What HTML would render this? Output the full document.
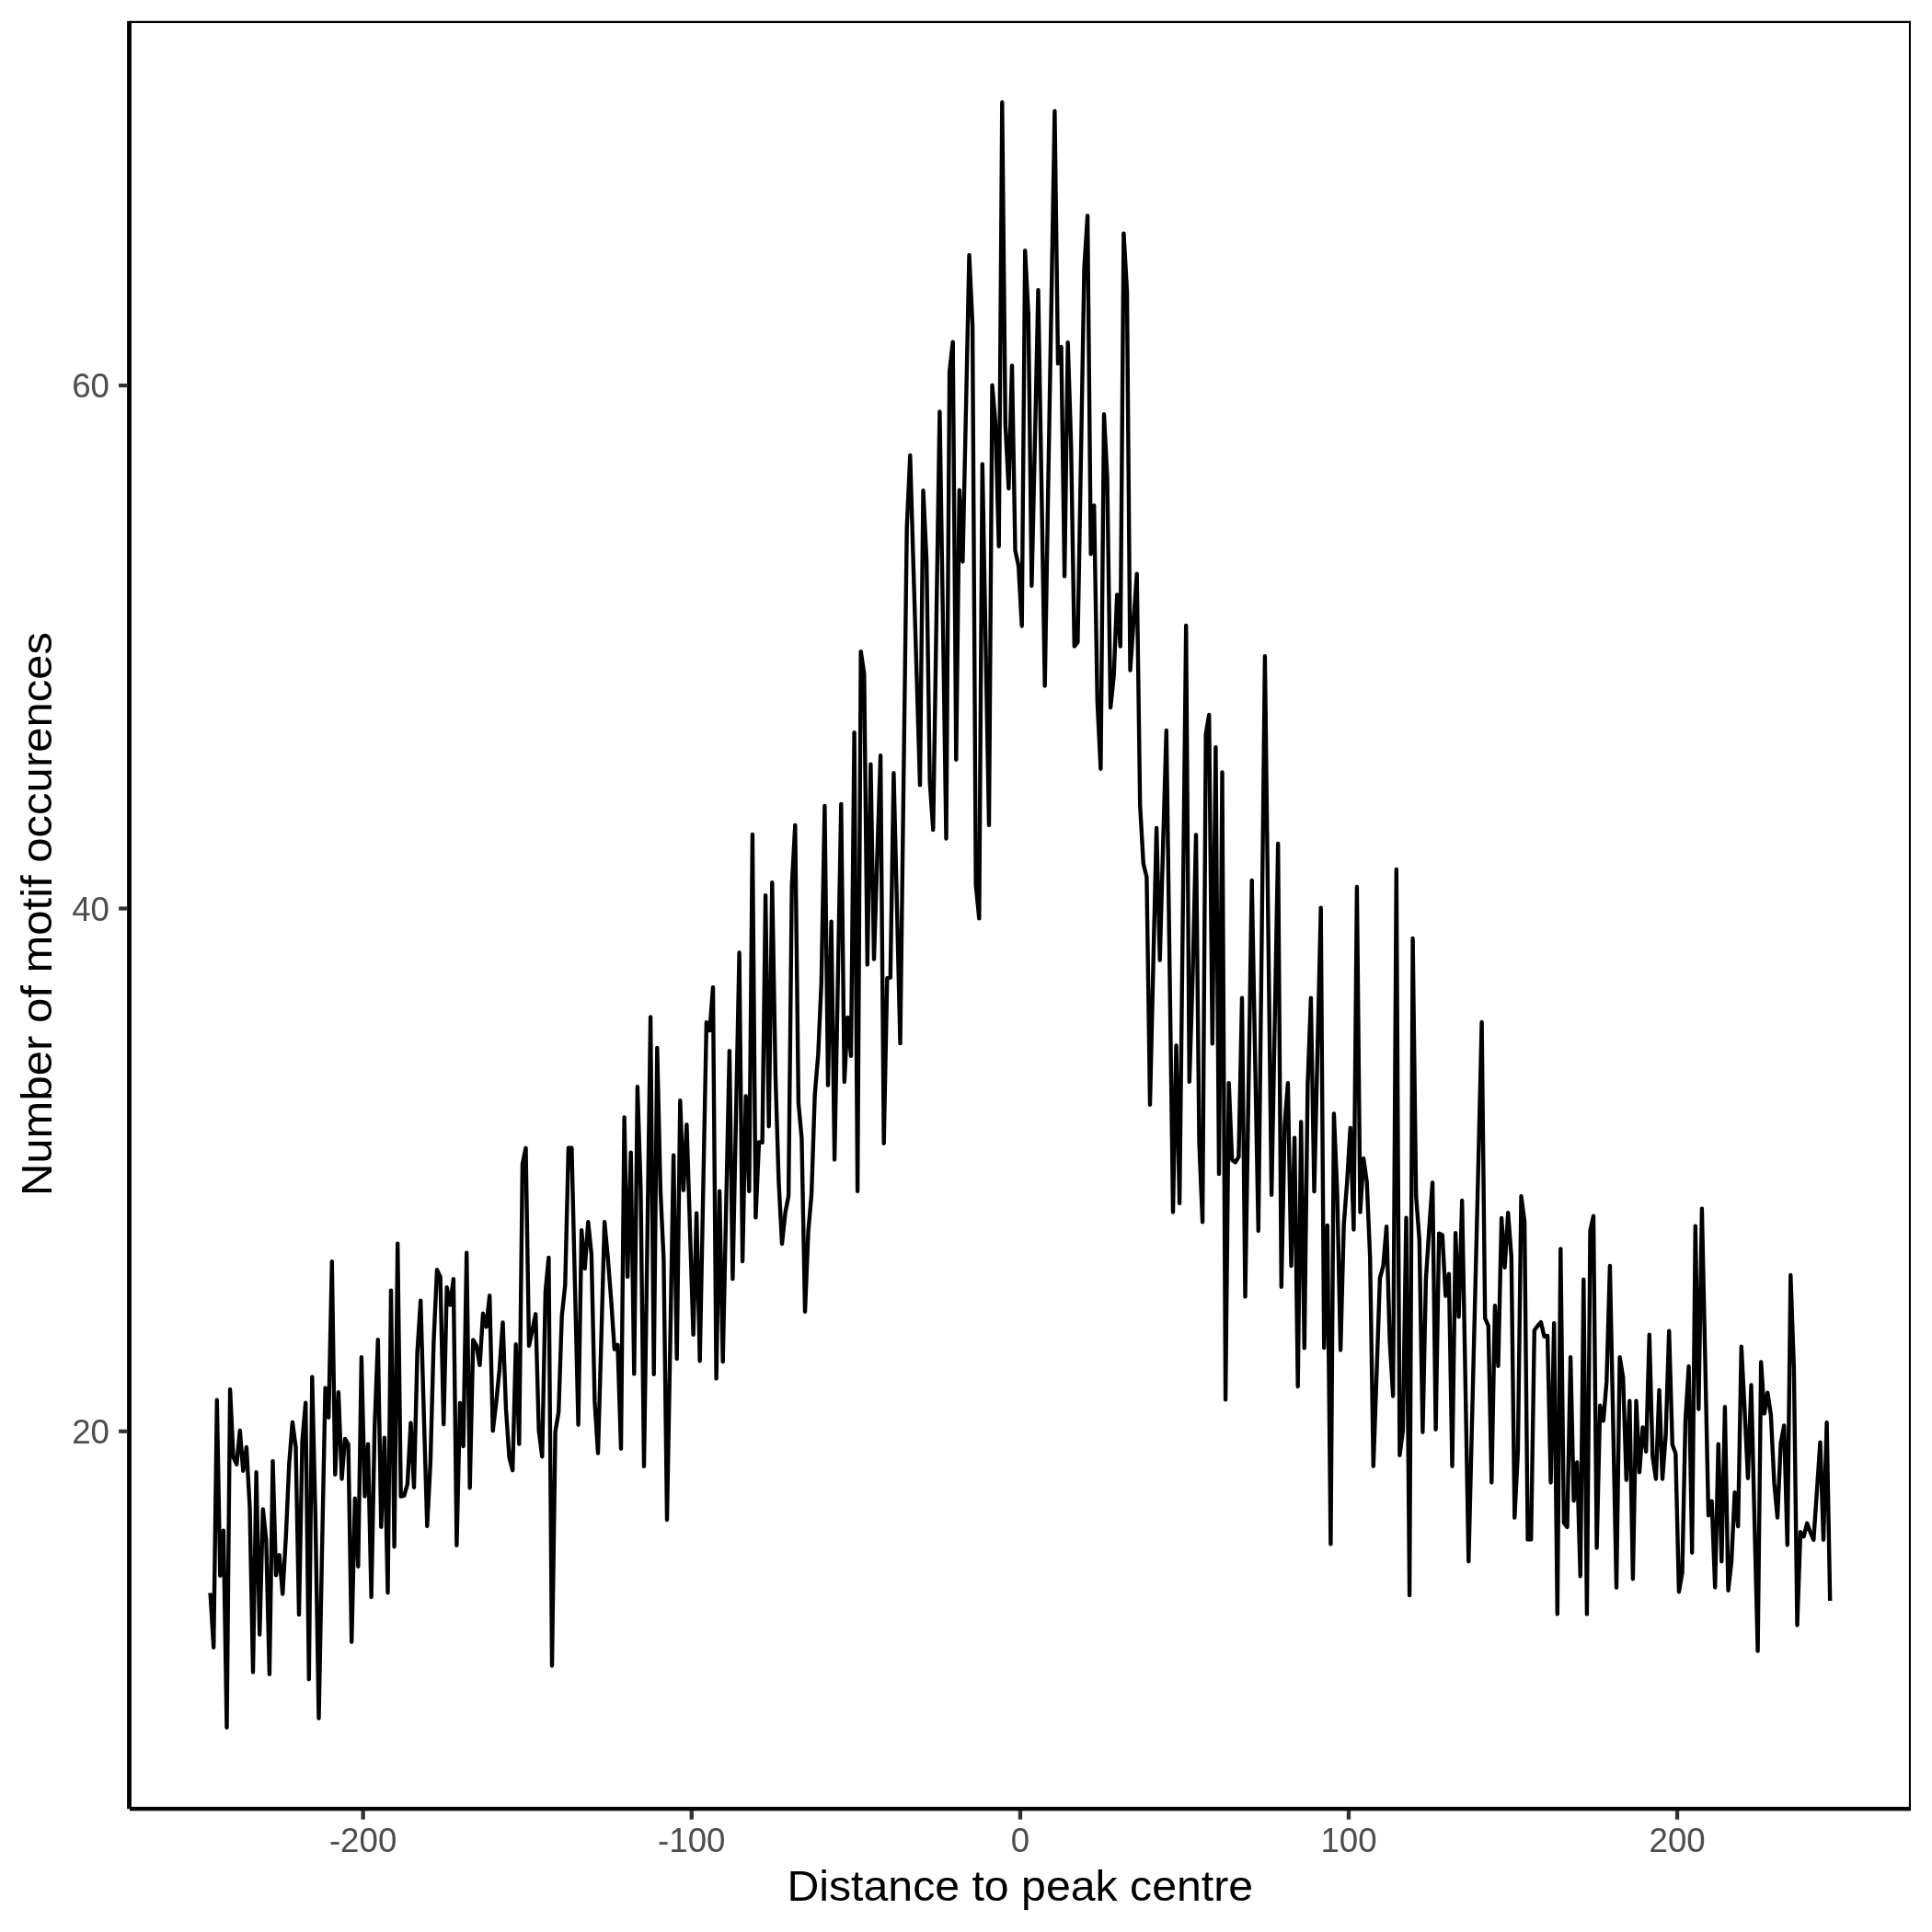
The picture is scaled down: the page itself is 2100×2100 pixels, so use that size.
<!DOCTYPE html>
<html><head><meta charset="utf-8"><style>
html,body{margin:0;padding:0;background:#fff;}
svg{display:block;}
svg{will-change:transform;}
.tl{font-family:"Liberation Sans",sans-serif;font-size:36.67px;fill:#4d4d4d;}
.tt{font-family:"Liberation Sans",sans-serif;font-size:45.83px;fill:#000;}
</style></head><body>
<svg width="2100" height="2100" viewBox="0 0 2100 2100">
<rect x="0" y="0" width="2100" height="2100" fill="#fff"/>
<path d="M228.6 1731.4 L232.2 1790.8 L235.8 1521.7 L239.3 1712.8 L242.9 1663.8 L246.5 1877.7 L250.1 1510.1 L253.6 1583.9 L257.2 1591.7 L260.8 1555 L264.3 1598.7 L267.9 1573 L271.5 1638.7 L275 1817.6 L278.6 1600.2 L282.2 1776.8 L285.8 1640.5 L289.3 1673.6 L292.9 1819.9 L296.5 1588.1 L300 1712.3 L303.6 1690.2 L307.2 1732.5 L310.8 1669.8 L314.3 1591.2 L317.9 1545.9 L321.5 1573.3 L325 1755.1 L328.6 1566.2 L332.2 1524.8 L335.8 1825.3 L339.3 1496.7 L342.9 1651.9 L346.5 1867.7 L350 1687.6 L353.6 1508.6 L357.2 1540.8 L360.8 1371.3 L364.3 1602.7 L367.9 1513.3 L371.5 1607.5 L375 1564 L378.6 1569.8 L382.2 1784.8 L385.8 1628.8 L389.3 1702.7 L392.9 1475.2 L396.5 1626.5 L400 1569.8 L403.6 1736 L407.2 1551.9 L410.8 1456.2 L414.3 1659.8 L417.9 1562.6 L421.5 1731.3 L425 1402.6 L428.6 1681.3 L432.2 1351.7 L435.7 1626.5 L439.3 1625.6 L442.9 1613.1 L446.5 1546.7 L450 1616.7 L453.6 1470 L457.2 1413.6 L460.7 1536.7 L464.3 1658.9 L467.9 1589 L471.4 1458.1 L475 1380.2 L478.6 1387.9 L482.2 1548.2 L485.7 1399.3 L489.3 1418.4 L492.9 1390.2 L496.4 1679.7 L500 1525 L503.6 1572 L507.2 1361.7 L510.7 1617.2 L514.3 1456.4 L517.9 1462.9 L521.5 1483.9 L525 1427.8 L528.6 1442.2 L532.2 1408.3 L535.7 1555.3 L539.3 1524.8 L542.9 1489 L546.5 1437.4 L550 1531.9 L553.6 1584.3 L557.2 1598.2 L560.7 1461.2 L564.3 1569.6 L567.9 1265.7 L571.5 1247.8 L575 1462.9 L578.6 1446 L582.2 1428.3 L585.7 1555 L589.3 1583.2 L592.9 1403.8 L596.4 1366.9 L600 1810.5 L603.6 1556.2 L607.2 1534.8 L610.7 1430.5 L614.3 1397.1 L617.9 1247.8 L621.4 1247.8 L625 1399.5 L628.6 1548.7 L632.1 1337.1 L635.7 1378.9 L639.3 1328.3 L642.9 1363.8 L646.4 1522.9 L650 1579.6 L653.6 1454 L657.1 1328.3 L660.7 1367 L664.3 1413 L667.9 1466.5 L671.4 1461.7 L675 1574.8 L678.6 1214.5 L682.1 1387.9 L685.7 1252.6 L689.3 1493.4 L692.9 1181.2 L696.4 1292.4 L700 1593.9 L703.6 1349.7 L707.1 1105.5 L710.7 1493.7 L714.3 1139 L717.9 1294.3 L721.4 1369 L725 1652 L728.6 1453.8 L732.1 1255.7 L735.7 1477 L739.3 1196.2 L742.9 1293.7 L746.4 1222.4 L750 1336.6 L753.6 1450.8 L757.1 1318.6 L760.7 1479.4 L764.3 1295.3 L767.9 1111.2 L771.4 1120.1 L775 1073.1 L778.6 1498.4 L782.1 1294.8 L785.7 1480.1 L789.3 1311.1 L792.9 1142.1 L796.4 1390.1 L800 1212.8 L803.6 1035.5 L807.1 1371 L810.7 1191.4 L814.3 1294.8 L817.9 907 L821.4 1323.4 L825 1241.4 L828.6 1241.9 L832.1 973.1 L835.7 1224.2 L839.3 959.3 L842.9 1169 L846.4 1283.3 L850 1352 L853.6 1318 L857.1 1300 L860.7 963 L864.3 896.9 L867.9 1199 L871.4 1237.1 L875 1425.8 L878.6 1338.1 L882.1 1297.6 L885.7 1189.5 L889.3 1146.7 L892.8 1068.1 L896.4 875.9 L900 1179.6 L903.6 1001.6 L907.1 1260.5 L910.7 1067.3 L914.3 874 L917.8 1176 L921.4 1105.9 L925 1147.9 L928.6 796.2 L932.1 1294.8 L935.7 708.1 L939.3 732.4 L942.8 1048.5 L946.4 830.7 L950 1042.6 L953.5 931.9 L957.1 821.2 L960.7 1242.7 L964.3 1063.2 L967.8 1062.6 L971.4 840.2 L975 987.2 L978.5 1134.1 L982.1 853.6 L985.7 573 L989.3 495 L992.8 614.5 L996.4 733.9 L1000 853.4 L1003.5 533.1 L1007.1 608.6 L1010.7 850 L1014.3 902 L1017.8 674.7 L1021.4 447.4 L1025 679.4 L1028.5 911.5 L1032.1 403.8 L1035.7 371.6 L1039.3 825.7 L1042.8 532.7 L1046.4 610.5 L1050 443.8 L1053.5 277.1 L1057.1 353.8 L1060.7 961.9 L1064.3 998.4 L1067.8 504.5 L1071.4 700.8 L1075 897 L1078.5 418.8 L1082.1 460.9 L1085.7 593.9 L1089.3 111.2 L1092.8 460.9 L1096.4 531 L1100 397.4 L1103.5 598.3 L1107.1 615 L1110.7 680.5 L1114.2 272.4 L1117.8 341.9 L1121.4 636.7 L1125 476 L1128.5 315.2 L1132.1 530.4 L1135.7 745.5 L1139.2 537.3 L1142.8 329 L1146.4 120.7 L1150 395.1 L1153.5 377 L1157.1 626.4 L1160.7 372.2 L1164.2 483.3 L1167.8 702.6 L1171.4 698.1 L1175 495.1 L1178.5 292 L1182.1 234.5 L1185.7 602.2 L1189.2 549.5 L1192.8 762.4 L1196.4 835.8 L1200 450.2 L1203.5 519 L1207.1 769.1 L1210.7 734 L1214.2 646.4 L1217.8 702.5 L1221.4 253.6 L1225 316.7 L1228.5 728.6 L1232.1 676.2 L1235.7 623.8 L1239.2 875 L1242.8 938.6 L1246.4 953.8 L1250 1200.8 L1253.5 1050.4 L1257.1 900 L1260.7 1043.7 L1264.2 918.8 L1267.8 794 L1271.4 1055.8 L1275 1317.5 L1278.5 1136.4 L1282.1 1308 L1285.7 994 L1289.2 679.9 L1292.8 1175.9 L1296.4 1060 L1300 907.4 L1303.5 1241.9 L1307.1 1328.4 L1310.7 798 L1314.2 776.9 L1317.8 1134.4 L1321.4 812.1 L1325 1276 L1328.5 839.5 L1332.1 1521.3 L1335.7 1177.1 L1339.2 1261 L1342.8 1263.4 L1346.4 1257.4 L1350 1084.8 L1353.5 1409.4 L1357.1 1183.1 L1360.7 956.9 L1364.2 1147.4 L1367.8 1337.9 L1371.4 1025.6 L1374.9 713.3 L1378.5 1006 L1382.1 1298.7 L1385.7 1107.8 L1389.2 916.9 L1392.8 1398.7 L1396.4 1222.9 L1399.9 1177.1 L1403.5 1376 L1407.1 1236.7 L1410.7 1507 L1414.2 1219.4 L1417.8 1465.2 L1421.4 1178.8 L1424.9 1084.8 L1428.5 1295.1 L1432.1 1140.9 L1435.7 986.6 L1439.2 1465.1 L1442.8 1331.9 L1446.4 1678.2 L1449.9 1210.5 L1453.5 1296.7 L1457.1 1467.5 L1460.7 1331 L1464.2 1284.8 L1467.8 1225.9 L1471.4 1336.5 L1474.9 964 L1478.5 1317.5 L1482.1 1259.3 L1485.7 1284.8 L1489.2 1366.7 L1492.8 1593.7 L1496.4 1491.5 L1499.9 1389.3 L1503.5 1376.2 L1507.1 1333.1 L1510.6 1457.1 L1514.2 1517.5 L1517.8 945 L1521.4 1581.7 L1524.9 1554.8 L1528.5 1323.6 L1532.1 1734.1 L1535.6 1020 L1539.2 1300 L1542.8 1347.6 L1546.4 1556.7 L1549.9 1390.5 L1553.5 1335.2 L1557.1 1285.5 L1560.6 1553.8 L1564.2 1340.7 L1567.8 1342.4 L1571.3 1408.7 L1574.9 1384.8 L1578.5 1593.7 L1582.1 1340.2 L1585.6 1431.3 L1589.2 1305 L1592.8 1501.1 L1596.3 1697.2 L1599.9 1550.7 L1603.5 1404.1 L1607.1 1257.5 L1610.6 1110.9 L1614.2 1432.9 L1617.8 1441.2 L1621.3 1611.5 L1624.9 1419.3 L1628.5 1484.8 L1632.1 1324 L1635.6 1377.7 L1639.2 1318.1 L1642.8 1366.2 L1646.3 1649.6 L1649.9 1578 L1653.5 1300.2 L1657.1 1328.1 L1660.6 1673.4 L1664.2 1673.4 L1667.8 1446 L1671.3 1441.2 L1674.9 1437.1 L1678.5 1452.7 L1682.1 1451.9 L1685.6 1611.5 L1689.2 1438.3 L1692.8 1754.4 L1696.3 1357.4 L1699.9 1655.1 L1703.5 1659.8 L1707.1 1475.2 L1710.6 1631.3 L1714.2 1589.5 L1717.8 1713.4 L1721.3 1390.7 L1724.9 1754.4 L1728.5 1337.6 L1732 1321.7 L1735.6 1682.5 L1739.2 1527.6 L1742.8 1544.4 L1746.3 1501.9 L1749.9 1375.9 L1753.5 1550.9 L1757 1725.8 L1760.6 1475.2 L1764.2 1497.1 L1767.8 1608.7 L1771.3 1522.8 L1774.9 1716.3 L1778.5 1522.8 L1782 1600.3 L1785.6 1551.4 L1789.2 1577.7 L1792.8 1450.7 L1796.3 1582.9 L1799.9 1607.5 L1803.5 1510.9 L1807 1607.5 L1810.6 1559.5 L1814.2 1446.7 L1817.8 1570.2 L1821.3 1579.8 L1824.9 1730.3 L1828.5 1709.3 L1832 1543.8 L1835.6 1485.2 L1839.2 1687.7 L1842.8 1332.8 L1846.3 1531.7 L1849.9 1313.8 L1853.5 1480.5 L1857 1647.2 L1860.6 1631.7 L1864.2 1725.5 L1867.8 1569.8 L1871.3 1697.2 L1874.9 1529.3 L1878.5 1728.7 L1882 1697.4 L1885.6 1622.1 L1889.2 1659.1 L1892.8 1463.8 L1896.3 1531 L1899.9 1606.7 L1903.5 1505.5 L1907 1650 L1910.6 1794.6 L1914.2 1480.5 L1917.8 1536.5 L1921.3 1513.8 L1924.9 1538.1 L1928.5 1611.9 L1932 1649.6 L1935.6 1569 L1939.2 1549.5 L1942.8 1679.4 L1946.3 1385.9 L1949.9 1487.1 L1953.5 1766.5 L1957 1665.2 L1960.6 1670.1 L1964.2 1655.7 L1967.8 1665.7 L1971.3 1673.7 L1974.9 1620.6 L1978.5 1567.6 L1982 1673.7 L1985.6 1546.2 L1989.2 1740" fill="none" stroke="#000" stroke-width="4.4" stroke-linejoin="round" stroke-linecap="butt"/>
<rect x="140.5" y="22.75" width="1936.5" height="2.3" fill="#000"/>
<rect x="2074.9" y="22.9" width="2.1" height="1943" fill="#000"/>
<rect x="138.1" y="22.9" width="4.8" height="1943.2" fill="#000"/>
<rect x="141" y="1963.9" width="1936" height="4.4" fill="#000"/>
<rect x="129.1" y="416.9" width="9.4" height="4.2" fill="#333"/>
<text x="119" y="432" text-anchor="end" class="tl">60</text>
<rect x="129.1" y="985.4" width="9.4" height="4.2" fill="#333"/>
<text x="119" y="1000.5" text-anchor="end" class="tl">40</text>
<rect x="129.1" y="1553.7" width="9.4" height="4.2" fill="#333"/>
<text x="119" y="1568.8" text-anchor="end" class="tl">20</text>
<rect x="392.5" y="1968" width="4.3" height="9.7" fill="#333"/>
<text x="394.6" y="2013.1" text-anchor="middle" class="tl">-200</text>
<rect x="749.6" y="1968" width="4.3" height="9.7" fill="#333"/>
<text x="751.8" y="2013.1" text-anchor="middle" class="tl">-100</text>
<rect x="1106.8" y="1968" width="4.3" height="9.7" fill="#333"/>
<text x="1108.9" y="2013.1" text-anchor="middle" class="tl">0</text>
<rect x="1463.8" y="1968" width="4.3" height="9.7" fill="#333"/>
<text x="1466" y="2013.1" text-anchor="middle" class="tl">100</text>
<rect x="1820.9" y="1968" width="4.3" height="9.7" fill="#333"/>
<text x="1823.1" y="2013.1" text-anchor="middle" class="tl">200</text>
<text transform="translate(1108.75,2066.1) scale(1.0525,1)" x="0" y="0" text-anchor="middle" class="tt">Distance to peak centre</text>
<text transform="translate(56,993.5) rotate(-90) scale(1.07,1)" x="0" y="0" text-anchor="middle" class="tt">Number of motif occurences</text>
</svg>
</body></html>
